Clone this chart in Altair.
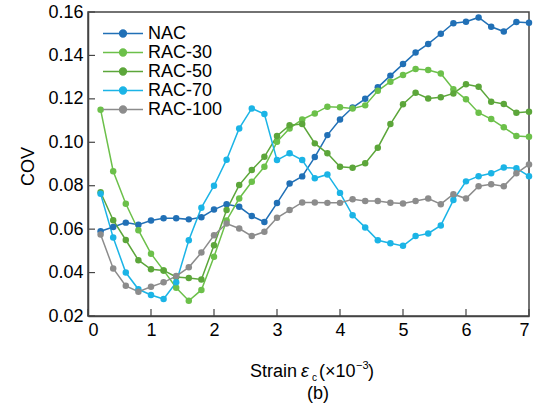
import altair as alt
import pandas as pd

# Strain sampling points (×10^-3)
strain = [0.2, 0.4, 0.6, 0.8, 1.0, 1.2, 1.4, 1.6, 1.8, 2.0, 2.2, 2.4, 2.6, 2.8,
          3.0, 3.2, 3.4, 3.6, 3.8, 4.0, 4.2, 4.4, 4.6, 4.8, 5.0, 5.2, 5.4, 5.6,
          5.8, 6.0, 6.2, 6.4, 6.6, 6.8, 7.0]

# Coefficient of variation for each mix
nac = [0.059, 0.061, 0.063, 0.062, 0.064, 0.065, 0.065, 0.0645, 0.0655, 0.069,
       0.0715, 0.0703, 0.066, 0.0633, 0.072, 0.081, 0.0843, 0.0932, 0.1033, 0.1105,
       0.116, 0.120, 0.1253, 0.1307, 0.136, 0.1413, 0.1453, 0.150, 0.1548, 0.1555,
       0.1575, 0.1532, 0.151, 0.1554, 0.1551]
rac30 = [0.115, 0.0867, 0.0717, 0.0595, 0.0487, 0.041, 0.033, 0.027, 0.032, 0.0473,
         0.064, 0.0741, 0.0818, 0.0887, 0.1002, 0.1064, 0.1105, 0.1133, 0.1164, 0.1161,
         0.1156, 0.117, 0.1237, 0.1279, 0.131, 0.1337, 0.1333, 0.1317, 0.1244, 0.1198,
         0.1136, 0.1107, 0.1069, 0.1029, 0.1026]
rac50 = [0.077, 0.0641, 0.055, 0.0457, 0.0415, 0.041, 0.038, 0.0375, 0.0368, 0.0526,
         0.0688, 0.0803, 0.0872, 0.0933, 0.1029, 0.1079, 0.1084, 0.0995, 0.0949, 0.0887,
         0.0883, 0.0903, 0.0975, 0.1084, 0.1175, 0.1228, 0.1202, 0.1207, 0.1225, 0.1267,
         0.1256, 0.1187, 0.1176, 0.1136, 0.1141]
rac70 = [0.0763, 0.0561, 0.040, 0.0323, 0.0297, 0.0278, 0.0355, 0.0549, 0.0699, 0.080,
         0.092, 0.1064, 0.1156, 0.113, 0.0918, 0.0949, 0.0918, 0.0834, 0.0852, 0.0767,
         0.0664, 0.0608, 0.0549, 0.0535, 0.0523, 0.0568, 0.058, 0.0617, 0.0734, 0.082,
         0.0844, 0.0857, 0.0884, 0.088, 0.0844]
rac100 = [0.0575, 0.0419, 0.0339, 0.0312, 0.0335, 0.0355, 0.0384, 0.0424, 0.0492, 0.0572,
          0.0626, 0.0603, 0.0568, 0.0588, 0.0652, 0.0688, 0.0723, 0.0723, 0.0721, 0.0721,
          0.0738, 0.073, 0.073, 0.0722, 0.0718, 0.073, 0.0741, 0.0715, 0.0761, 0.0741,
          0.0798, 0.0807, 0.0798, 0.0857, 0.0898]

series_names = ["NAC", "RAC-30", "RAC-50", "RAC-70", "RAC-100"]
series_colors = ["#2170b6", "#6cc04a", "#5ca63a", "#1bb4e6", "#8c8c8c"]
x_ticks = [0, 1, 2, 3, 4, 5, 6, 7]
y_ticks = [0.02, 0.04, 0.06, 0.08, 0.10, 0.12, 0.14, 0.16]

rows = []
for name, vals in zip(series_names, [nac, rac30, rac50, rac70, rac100]):
    for s, v in zip(strain, vals):
        rows.append({"series": name, "strain": s, "cov": v})
df = pd.DataFrame(rows)

FONT = "Liberation Sans"
W, H = 441, 304

# legend glyph: short line with a dot in the middle
legend_path = ("M-1,0L1,0M-0.17,0A0.17,0.17,0,1,1,0.17,0"
               "A0.17,0.17,0,1,1,-0.17,0Z")

x_enc = alt.X("strain:Q", scale=alt.Scale(domain=[0, 7], nice=False),
              axis=alt.Axis(values=x_ticks, ticks=False, grid=False, title=None,
                            labelFontSize=18, labelPadding=5, format="d"))
y_enc = alt.Y("cov:Q", scale=alt.Scale(domain=[0.02, 0.16], nice=False, zero=False),
              axis=alt.Axis(values=y_ticks, ticks=False, grid=False, title="COV",
                            format=".2f", labelFontSize=18, labelPadding=5,
                            titleFontSize=18, titleFontWeight="normal",
                            titleX=-60, titleY=H / 2 + 2, titleAngle=-90,
                            titleAlign="center", titleBaseline="middle"))
color_enc = alt.Color("series:N",
                      scale=alt.Scale(domain=series_names, range=series_colors),
                      sort=series_names,
                      legend=alt.Legend(title=None, orient="none", legendX=14, legendY=13,
                                        symbolType=legend_path, symbolSize=1600,
                                        symbolStrokeWidth=1.5, labelFontSize=18,
                                        labelFont=FONT, rowPadding=0, clipHeight=17,
                                        labelOffset=4))

lines = alt.Chart(df).mark_line(strokeWidth=1.5).encode(
    x=x_enc, y=y_enc, color=color_enc, detail="series:N")
points = alt.Chart(df).mark_point(filled=True, size=42, opacity=1).encode(
    x=x_enc, y=y_enc, color=color_enc)

# inward tick marks
xt = alt.Chart(pd.DataFrame({"t": x_ticks})).mark_rule(color="#444", strokeWidth=1.2).encode(
    x="t:Q", y=alt.value(H), y2=alt.value(H - 7))
yt = alt.Chart(pd.DataFrame({"t": y_ticks})).mark_rule(color="#444", strokeWidth=1.2).encode(
    y="t:Q", x=alt.value(0), x2=alt.value(7))

# x-axis title with italic epsilon, subscript and superscript
def label(text, x, y, size=18, style="normal"):
    return alt.Chart(pd.DataFrame({"t": [text]})).mark_text(
        align="left", baseline="alphabetic", font=FONT, fontSize=size,
        fontStyle=style, color="black").encode(
        text="t:N", x=alt.value(x), y=alt.value(y))

titles = [
    label("Strain", 250 - 88, 377 - 12),
    label("ε", 301 - 88, 377 - 12, style="italic"),
    label("c", 312 - 88, 381 - 12, size=10),
    label("(×10", 319 - 88, 377 - 12),
    label("−3", 356 - 88, 369 - 12, size=11),
    label(")", 368 - 88, 377 - 12),
    label("(b)", 307 - 88, 399 - 12),
]

chart = alt.layer(lines, points, xt, yt, *titles).properties(
    width=W, height=H,
    autosize=alt.AutoSizeParams(type="none"),
    padding={"left": 88, "top": 12, "right": 25, "bottom": 87},
    background="white",
).configure_view(stroke="#444", strokeWidth=1.5).configure_axis(
    domainColor="#444", domainWidth=1.5, labelFont=FONT, titleFont=FONT,
    labelColor="black", titleColor="black")

chart.save("out.html", embed_options={"renderer": "svg", "actions": False})
